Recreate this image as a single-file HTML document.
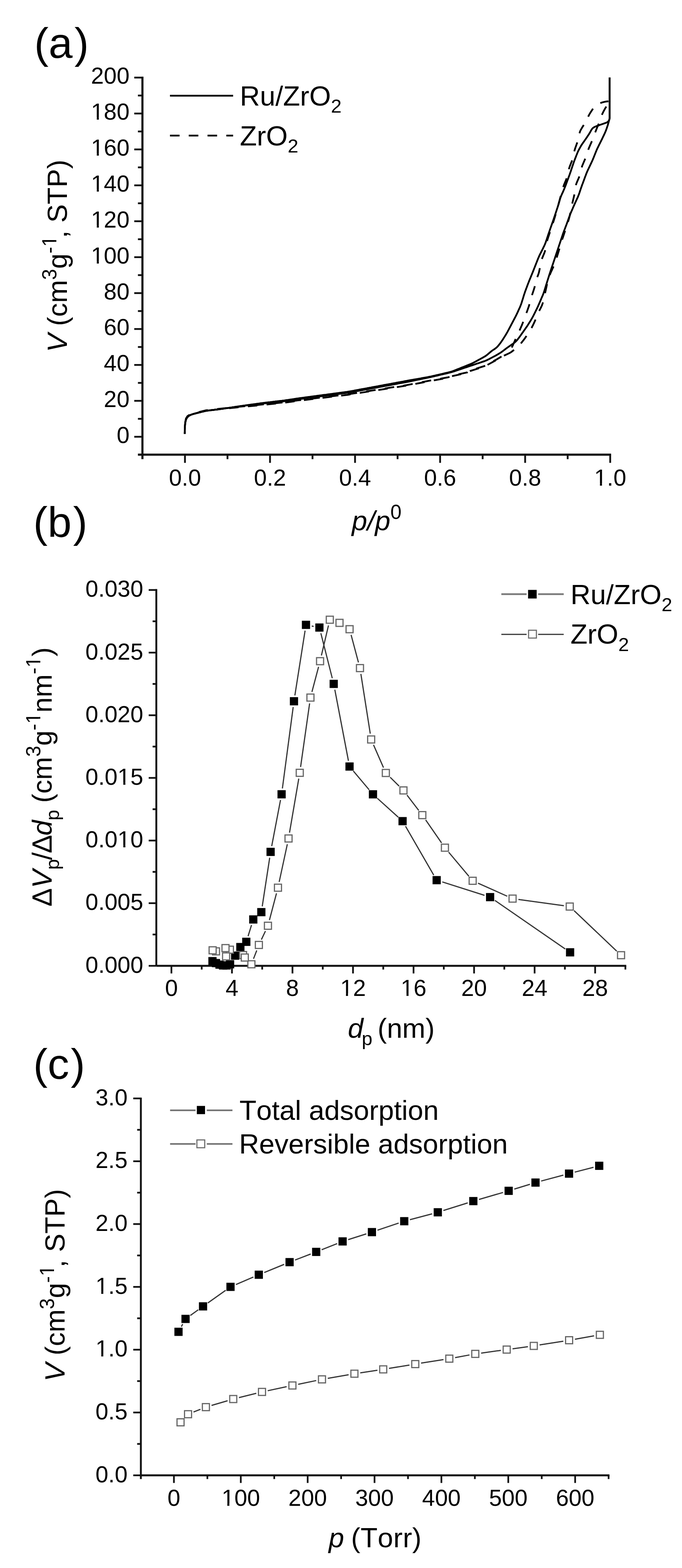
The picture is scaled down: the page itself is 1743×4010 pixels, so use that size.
<!DOCTYPE html><html><head><meta charset="utf-8"><title>Figure</title><style>html,body{margin:0;padding:0;background:#fff;}svg{display:block;filter:blur(0.7px);} text{font-family:'Liberation Sans', Arial, sans-serif;fill:#000;font-kerning:none;}</style></head><body>
<svg width="1743" height="4010" viewBox="0 0 1743 4010">
<rect width="1743" height="4010" fill="#fff"/>
<text x="87.5" y="148.2" font-size="110" text-anchor="start" >(a<tspan dx="5">)</tspan></text>
<text x="85" y="1373.2" font-size="110" text-anchor="start" >(b<tspan dx="4">)</tspan></text>
<text x="85" y="2758.7" font-size="110" text-anchor="start" >(c<tspan dx="4">)</tspan></text>
<line x1="364" y1="196.1" x2="364" y2="1174.3" stroke="#111" stroke-width="5.4" />
<line x1="352.5" y1="1162.8" x2="1561.8" y2="1162.8" stroke="#111" stroke-width="5.4" />
<line x1="343.1" y1="1117" x2="364" y2="1117" stroke="#111" stroke-width="4.6" />
<line x1="352.5" y1="1071.1" x2="364" y2="1071.1" stroke="#111" stroke-width="4.6" />
<line x1="343.1" y1="1025.1" x2="364" y2="1025.1" stroke="#111" stroke-width="4.6" />
<line x1="352.5" y1="979.2" x2="364" y2="979.2" stroke="#111" stroke-width="4.6" />
<line x1="343.1" y1="933.3" x2="364" y2="933.3" stroke="#111" stroke-width="4.6" />
<line x1="352.5" y1="887.4" x2="364" y2="887.4" stroke="#111" stroke-width="4.6" />
<line x1="343.1" y1="841.4" x2="364" y2="841.4" stroke="#111" stroke-width="4.6" />
<line x1="352.5" y1="795.5" x2="364" y2="795.5" stroke="#111" stroke-width="4.6" />
<line x1="343.1" y1="749.6" x2="364" y2="749.6" stroke="#111" stroke-width="4.6" />
<line x1="352.5" y1="703.6" x2="364" y2="703.6" stroke="#111" stroke-width="4.6" />
<line x1="343.1" y1="657.7" x2="364" y2="657.7" stroke="#111" stroke-width="4.6" />
<line x1="352.5" y1="611.8" x2="364" y2="611.8" stroke="#111" stroke-width="4.6" />
<line x1="343.1" y1="565.8" x2="364" y2="565.8" stroke="#111" stroke-width="4.6" />
<line x1="352.5" y1="519.9" x2="364" y2="519.9" stroke="#111" stroke-width="4.6" />
<line x1="343.1" y1="474" x2="364" y2="474" stroke="#111" stroke-width="4.6" />
<line x1="352.5" y1="428" x2="364" y2="428" stroke="#111" stroke-width="4.6" />
<line x1="343.1" y1="382.1" x2="364" y2="382.1" stroke="#111" stroke-width="4.6" />
<line x1="352.5" y1="336.2" x2="364" y2="336.2" stroke="#111" stroke-width="4.6" />
<line x1="343.1" y1="290.3" x2="364" y2="290.3" stroke="#111" stroke-width="4.6" />
<line x1="352.5" y1="244.3" x2="364" y2="244.3" stroke="#111" stroke-width="4.6" />
<line x1="343.1" y1="198.4" x2="364" y2="198.4" stroke="#111" stroke-width="4.6" />
<line x1="472.7" y1="1162.8" x2="472.7" y2="1183.7" stroke="#111" stroke-width="4.6" />
<line x1="581.4" y1="1162.8" x2="581.4" y2="1174.3" stroke="#111" stroke-width="4.6" />
<line x1="690.1" y1="1162.8" x2="690.1" y2="1183.7" stroke="#111" stroke-width="4.6" />
<line x1="798.7" y1="1162.8" x2="798.7" y2="1174.3" stroke="#111" stroke-width="4.6" />
<line x1="907.4" y1="1162.8" x2="907.4" y2="1183.7" stroke="#111" stroke-width="4.6" />
<line x1="1016.1" y1="1162.8" x2="1016.1" y2="1174.3" stroke="#111" stroke-width="4.6" />
<line x1="1124.8" y1="1162.8" x2="1124.8" y2="1183.7" stroke="#111" stroke-width="4.6" />
<line x1="1233.5" y1="1162.8" x2="1233.5" y2="1174.3" stroke="#111" stroke-width="4.6" />
<line x1="1342.1" y1="1162.8" x2="1342.1" y2="1183.7" stroke="#111" stroke-width="4.6" />
<line x1="1450.8" y1="1162.8" x2="1450.8" y2="1174.3" stroke="#111" stroke-width="4.6" />
<line x1="1559.5" y1="1162.8" x2="1559.5" y2="1183.7" stroke="#111" stroke-width="4.6" />
<text x="331" y="1133" font-size="59" text-anchor="end" >0</text>
<text x="331" y="1041.1" font-size="59" text-anchor="end" >20</text>
<text x="331" y="949.3" font-size="59" text-anchor="end" >40</text>
<text x="331" y="857.4" font-size="59" text-anchor="end" >60</text>
<text x="331" y="765.6" font-size="59" text-anchor="end" >80</text>
<text x="331" y="673.7" font-size="59" text-anchor="end" >100</text>
<rect x="236" y="668" width="11.4" height="7" fill="#fff"/>
<rect x="252.6" y="668" width="11.4" height="7" fill="#fff"/>
<text x="331" y="581.8" font-size="59" text-anchor="end" >120</text>
<rect x="236" y="576" width="11.4" height="8" fill="#fff"/>
<rect x="252.6" y="576" width="11.4" height="8" fill="#fff"/>
<text x="331" y="490" font-size="59" text-anchor="end" >140</text>
<rect x="236" y="484" width="11.4" height="8" fill="#fff"/>
<rect x="252.6" y="484" width="11.4" height="8" fill="#fff"/>
<text x="331" y="398.1" font-size="59" text-anchor="end" >160</text>
<rect x="236" y="392" width="11.4" height="8" fill="#fff"/>
<rect x="252.6" y="392" width="11.4" height="8" fill="#fff"/>
<text x="331" y="306.3" font-size="59" text-anchor="end" >180</text>
<rect x="236" y="300" width="11.4" height="8" fill="#fff"/>
<rect x="252.6" y="300" width="11.4" height="8" fill="#fff"/>
<text x="331" y="214.4" font-size="59" text-anchor="end" >200</text>
<text x="472.7" y="1241.5" font-size="59" text-anchor="middle" >0.0</text>
<text x="690.1" y="1241.5" font-size="59" text-anchor="middle" >0.2</text>
<text x="907.4" y="1241.5" font-size="59" text-anchor="middle" >0.4</text>
<text x="1124.8" y="1241.5" font-size="59" text-anchor="middle" >0.6</text>
<text x="1342.1" y="1241.5" font-size="59" text-anchor="middle" >0.8</text>
<text x="1559.5" y="1241.5" font-size="59" text-anchor="middle" >1.0</text>
<rect x="1522" y="1236" width="11.3" height="7" fill="#fff"/>
<rect x="1538.5" y="1236" width="11.5" height="7" fill="#fff"/>
<g fill="none" stroke="#000" stroke-width="4.5" stroke-linejoin="round" stroke-linecap="butt">
<polyline points="472.1,1110 472.1,1106.7 472.2,1103.8 472.2,1100.9 472.3,1098 472.4,1095 472.6,1092 472.8,1089 473,1086 473.3,1083 473.8,1080.1 474.3,1077.2 475.1,1074.3 476.1,1071.6 477.5,1069 479.2,1066.7 481.3,1064.7 483.6,1063 486.2,1061.6 488.9,1060.4 491.7,1059.5 494.6,1058.6 497.5,1057.8 500.4,1057 503.3,1056.3 506.2,1055.6 509.1,1054.9 512,1054.2 515,1053.4 517.9,1052.7 520.8,1052 523.7,1051.4 526.7,1050.8 529.6,1050.3 532.6,1049.9 535.5,1049.5 538.5,1049.1 541.5,1048.7 544.5,1048.4 547.5,1048 550.4,1047.6 553.4,1047.3 556.4,1046.9 559.4,1046.6 562.4,1046.2 565.3,1045.8 568.3,1045.4 571.3,1045 574.2,1044.5 577.2,1044.1 580.2,1043.7 583.2,1043.2 586.1,1042.8 589.1,1042.3 592.1,1041.9 595,1041.4 598,1041 601,1040.5 603.9,1040.1 606.9,1039.7 609.9,1039.2 612.8,1038.8 615.8,1038.3 618.8,1037.9 621.7,1037.5 624.7,1037.1 627.7,1036.6 630.7,1036.2 633.6,1035.8 636.6,1035.4 639.6,1035 642.6,1034.6 645.5,1034.2 648.5,1033.8 651.5,1033.4 654.5,1033 657.4,1032.6 660.4,1032.2 663.4,1031.8 666.3,1031.3 669.3,1030.9 672.3,1030.6 675.3,1030.2 678.3,1029.8 681.2,1029.4 684.2,1029.1 687.2,1028.7 690.2,1028.4 693.2,1028 696.1,1027.7 699.1,1027.3 702.1,1027 705.1,1026.6 708.1,1026.3 711,1025.9 714,1025.6 717,1025.2 720,1024.9 723,1024.5 725.9,1024.2 728.9,1023.8 731.9,1023.3 734.9,1022.9 737.8,1022.5 740.8,1022 743.8,1021.6 746.7,1021.1 749.7,1020.7 752.7,1020.2 755.6,1019.8 758.6,1019.3 761.6,1018.9 764.5,1018.5 767.5,1018.1 770.5,1017.7 773.5,1017.3 776.4,1016.9 779.4,1016.5 782.4,1016.1 785.4,1015.7 788.3,1015.3 791.3,1014.9 794.3,1014.5 797.3,1014.1 800.2,1013.7 803.2,1013.3 806.2,1012.9 809.2,1012.5 812.1,1012.1 815.1,1011.7 818.1,1011.3 821.1,1010.9 824,1010.5 827,1010.1 830,1009.7 833,1009.4 835.9,1009 838.9,1008.6 841.9,1008.2 844.9,1007.8 847.8,1007.4 850.8,1007 853.8,1006.6 856.8,1006.2 859.7,1005.8 862.7,1005.4 865.7,1005 868.7,1004.6 871.6,1004.2 874.6,1003.8 877.6,1003.4 880.6,1003 883.5,1002.6 886.5,1002.2 889.5,1001.7 892.4,1001.2 895.4,1000.7 898.3,1000.2 901.3,999.6 904.3,999.1 907.2,998.5 910.2,998 913.1,997.4 916.1,996.9 919,996.3 922,995.8 924.9,995.2 927.9,994.7 930.8,994.2 933.8,993.6 936.7,993.1 939.7,992.5 942.6,992 945.6,991.4 948.5,990.9 951.5,990.3 954.4,989.8 957.4,989.2 960.3,988.7 963.3,988.1 966.2,987.6 969.2,987 972.1,986.5 975.1,985.9 978,985.4 981,984.8 983.9,984.3 986.9,983.8 989.8,983.2 992.8,982.7 995.7,982.1 998.7,981.6 1001.6,981 1004.6,980.5 1007.5,979.9 1010.5,979.4 1013.4,978.8 1016.4,978.3 1019.3,977.7 1022.3,977.2 1025.2,976.6 1028.2,976.1 1031.1,975.6 1033.9,975 1036.8,974.5 1040,973.9 1040,973.9 1043.2,973.3 1046.1,972.8 1048.9,972.3 1051.8,971.8 1054.8,971.3 1057.7,970.7 1060.7,970.2 1063.7,969.7 1066.6,969.2 1069.6,968.6 1072.5,968.1 1075.5,967.6 1078.4,967 1081.4,966.5 1084.4,966 1087.3,965.5 1090.3,964.9 1093.2,964.4 1096.2,963.8 1099.1,963.3 1102.1,962.7 1105,962 1107.9,961.3 1110.9,960.7 1113.8,960 1116.7,959.3 1119.6,958.6 1122.6,957.9 1125.5,957.3 1128.4,956.6 1131.3,955.9 1134.3,955.2 1137.2,954.5 1140.1,953.8 1143,953.2 1146,952.5 1148.9,951.7 1151.8,950.9 1154.6,950.1 1157.5,949.1 1160.3,948 1163.1,946.9 1165.8,945.8 1168.6,944.7 1171.4,943.6 1174.2,942.5 1177,941.3 1179.8,940.2 1182.6,939.1 1185.4,938 1188.2,936.9 1190.9,935.8 1193.7,934.6 1196.5,933.5 1199.3,932.4 1202.1,931.3 1204.8,930.1 1207.6,928.8 1210.2,927.5 1212.9,926.1 1215.5,924.6 1218.2,923.2 1220.8,921.8 1223.4,920.3 1226.1,918.9 1228.7,917.4 1231.3,916 1234,914.5 1236.6,913 1239.2,911.5 1241.7,909.9 1244.1,908.1 1246.4,906.3 1248.7,904.3 1250.9,902.3 1253.2,900.4 1255.5,898.5 1257.9,896.7 1260.4,895 1262.9,893.3 1265.4,891.6 1267.7,889.9 1270,887.9 1272,885.8 1274,883.5 1275.8,881.2 1277.7,878.8 1279.5,876.4 1281.2,874 1282.9,871.5 1284.6,869 1286.2,866.5 1287.8,863.9 1289.4,861.4 1291,858.9 1292.6,856.3 1294.1,853.7 1295.6,851.1 1297.1,848.5 1298.5,845.8 1299.9,843.2 1301.3,840.5 1302.7,837.9 1304.1,835.2 1305.5,832.6 1306.9,829.9 1308.3,827.2 1309.7,824.6 1311.1,821.9 1312.5,819.3 1313.9,816.6 1315.3,813.9 1316.7,811.3 1318.1,808.6 1319.4,805.9 1320.7,803.2 1322,800.5 1323.3,797.8 1324.5,795 1325.7,792.3 1327,789.6 1328.2,786.8 1329.4,784.1 1330.5,781.3 1331.6,778.5 1332.6,775.7 1333.5,772.8 1334.4,769.9 1335.3,767.1 1336.2,764.2 1337.1,761.3 1337.9,758.5 1338.8,755.6 1339.7,752.7 1340.7,749.9 1341.6,747 1342.6,744.2 1343.7,741.4 1344.7,738.6 1345.8,735.7 1346.8,732.9 1347.9,730.1 1348.9,727.3 1350,724.5 1351.1,721.7 1352.2,718.9 1353.3,716.1 1354.4,713.3 1355.6,710.6 1356.7,707.8 1357.9,705 1359,702.2 1360.2,699.4 1361.3,696.7 1362.4,693.9 1363.5,691.1 1364.6,688.3 1365.7,685.5 1366.8,682.7 1367.9,679.9 1369,677.1 1370.1,674.3 1371.2,671.5 1372.3,668.7 1373.4,665.9 1374.5,663.1 1375.6,660.3 1376.8,657.6 1378,654.8 1379.3,652.1 1380.6,649.4 1382,646.8 1383.3,644.1 1384.7,641.4 1386,638.7 1387.4,636 1388.7,633.3 1390,630.6 1391.3,627.9 1392.5,625.2 1393.6,622.4 1394.7,619.6 1395.6,616.7 1396.6,613.9 1397.6,611 1398.5,608.2 1399.5,605.3 1400.4,602.5 1401.4,599.6 1402.3,596.8 1403.3,594 1404.3,591.1 1405.2,588.3 1406.2,585.4 1407.2,582.6 1408.2,579.8 1409.2,576.9 1410.2,574.1 1411.2,571.3 1412.2,568.4 1413.2,565.6 1414.2,562.8 1415.1,559.9 1416.1,557.1 1417,554.2 1418,551.4 1418.9,548.5 1419.9,545.7 1420.8,542.8 1421.8,540 1422.7,537.1 1423.6,534.2 1424.6,531.4 1425.5,528.5 1426.4,525.7 1427.3,522.8 1428.1,519.9 1429,517 1429.8,514.1 1430.6,511.2 1431.4,508.4 1432.4,505.5 1433.5,502.7 1434.6,500 1435.8,497.2 1437,494.5 1438.3,491.7 1439.5,489 1440.7,486.2 1441.9,483.5 1443,480.7 1444.1,477.9 1445.2,475.1 1446.3,472.3 1447.3,469.5 1448.3,466.7 1449.4,463.8 1450.4,461 1451.5,458.2 1452.5,455.4 1453.5,452.6 1454.6,449.7 1455.6,446.9 1456.6,444.1 1457.6,441.3 1458.6,438.4 1459.5,435.6 1460.5,432.7 1461.4,429.9 1462.4,427 1463.3,424.2 1464.3,421.3 1465.3,418.5 1466.2,415.6 1467.2,412.8 1468.3,410 1469.3,407.2 1470.4,404.4 1471.5,401.6 1472.6,398.8 1473.7,396 1474.8,393.2 1475.9,390.4 1477.1,387.7 1478.4,385 1479.8,382.3 1481.2,379.6 1482.7,377 1484.1,374.4 1485.7,371.8 1487.3,369.3 1489,366.8 1490.7,364.4 1492.4,361.9 1494.1,359.4 1495.9,357 1497.6,354.5 1499.3,352 1501,349.5 1502.6,347.1 1504.3,344.6 1505.9,342 1507.4,339.5 1508.9,336.8 1510.3,334.2 1511.8,331.7 1513.5,329.3 1515.4,327.3 1517.7,325.7 1520.2,324.3 1522.8,323.2 1525.6,322.2 1528.6,321 1528.6,321 1531.7,320 1534.5,319 1537.2,318.1 1540,317.2 1542.9,316.2 1545.7,315.2 1548.5,314.2 1551.1,313 1553.3,311.5 1555.3,309.7 1556.6,307.4 1557.5,304.6 1558,303 1558,299.8 1558,296.8 1558,293.9 1558,291 1558,288 1558,285 1558,282 1558,279 1558,276 1558,273 1558,270 1558,267 1558,264 1558,261 1558,258 1558,255 1558,252 1558,249 1558,246 1558,243 1558,240 1558,237 1558,234 1558,231 1558,228 1558,225 1558,222 1558,219 1558,216 1558,213 1558,210 1558,207.1 1558,204.2 1558,201.2 1558,198 1558,198"/>
<polyline points="472.1,1110 472.1,1106.7 472.2,1103.8 472.2,1100.9 472.3,1098 472.4,1095 472.6,1092 472.8,1089 473,1086 473.3,1083 473.8,1080 474.4,1077.1 475.1,1074.3 476.2,1071.5 477.5,1069 479.3,1066.6 481.3,1064.6 483.7,1062.9 486.3,1061.5 489,1060.4 491.8,1059.4 494.7,1058.6 497.6,1057.8 500.5,1057 503.4,1056.3 506.3,1055.5 509.3,1054.8 512.2,1054.1 515.1,1053.4 518,1052.7 520.9,1052 523.9,1051.4 526.8,1050.8 529.8,1050.3 532.8,1049.8 535.7,1049.4 538.7,1049.1 541.7,1048.7 544.7,1048.3 547.7,1048 550.7,1047.6 553.6,1047.3 556.6,1046.9 559.6,1046.5 562.6,1046.2 565.6,1045.8 568.6,1045.4 571.5,1045 574.5,1044.6 577.5,1044.1 580.5,1043.7 583.4,1043.3 586.4,1042.9 589.4,1042.4 592.4,1042 595.3,1041.6 598.3,1041.2 601.3,1040.8 604.3,1040.3 607.3,1039.9 610.2,1039.5 613.2,1039.1 616.2,1038.7 619.2,1038.3 622.2,1037.9 625.1,1037.5 628.1,1037.1 631.1,1036.8 634.1,1036.4 637.1,1036.1 640.1,1035.7 643.1,1035.4 646,1035 649,1034.7 652,1034.3 655,1034 658,1033.6 661,1033.3 664,1033 666.9,1032.6 669.9,1032.3 672.9,1031.9 675.9,1031.6 678.9,1031.3 681.9,1030.9 684.9,1030.6 687.9,1030.3 690.9,1030 693.8,1029.7 696.8,1029.3 699.8,1029 702.8,1028.7 705.8,1028.4 708.8,1028.1 711.8,1027.8 714.8,1027.4 717.8,1027.1 720.8,1026.8 723.7,1026.5 726.7,1026.1 729.7,1025.7 732.7,1025.3 735.7,1024.9 738.6,1024.5 741.6,1024 744.6,1023.6 747.6,1023.1 750.5,1022.7 753.5,1022.3 756.5,1021.8 759.5,1021.4 762.4,1021 765.4,1020.6 768.4,1020.2 771.4,1019.8 774.4,1019.4 777.3,1019 780.3,1018.6 783.3,1018.2 786.3,1017.8 789.3,1017.5 792.2,1017.1 795.2,1016.7 798.2,1016.3 801.2,1015.9 804.2,1015.5 807.2,1015.1 810.1,1014.7 813.1,1014.3 816.1,1013.9 819.1,1013.6 822.1,1013.2 825,1012.8 828,1012.4 831,1012 834,1011.6 837,1011.2 839.9,1010.8 842.9,1010.4 845.9,1010 848.9,1009.7 851.9,1009.3 854.9,1008.9 857.8,1008.5 860.8,1008.1 863.8,1007.7 866.8,1007.3 869.8,1006.9 872.7,1006.5 875.7,1006.1 878.7,1005.8 881.7,1005.4 884.7,1005 887.6,1004.5 890.6,1004.1 893.6,1003.6 896.5,1003.1 899.5,1002.5 902.5,1002 905.4,1001.5 908.4,1000.9 911.3,1000.4 914.3,999.8 917.2,999.3 920.2,998.8 923.2,998.2 926.1,997.7 929.1,997.1 932,996.6 935,996.1 938,995.5 940.9,995 943.9,994.4 946.8,993.9 949.8,993.4 952.7,992.8 955.7,992.3 958.7,991.7 961.6,991.2 964.6,990.7 967.5,990.1 970.5,989.6 973.4,989 976.4,988.5 979.4,988 982.3,987.4 985.3,986.9 988.2,986.3 991.2,985.8 994.2,985.3 997.1,984.7 1000.1,984.2 1003,983.6 1006,983.1 1008.9,982.6 1011.9,982 1014.9,981.5 1017.8,980.9 1020.8,980.4 1023.7,979.9 1026.7,979.3 1029.6,978.8 1032.5,978.3 1035.3,977.7 1038.3,977.2 1040,976.9 1043.2,976.2 1046,975.7 1048.9,975.1 1051.8,974.5 1054.7,973.9 1057.7,973.3 1060.6,972.6 1063.5,972 1066.5,971.4 1069.4,970.8 1072.4,970.2 1075.3,969.6 1078.2,969 1081.2,968.4 1084.1,967.8 1087.1,967.2 1090,966.6 1092.9,966 1095.9,965.3 1098.8,964.7 1101.8,964.1 1104.7,963.4 1107.6,962.7 1110.5,962 1113.5,961.4 1116.4,960.7 1119.3,960 1122.2,959.3 1125.2,958.6 1128.1,957.9 1131,957.3 1133.9,956.6 1136.9,955.9 1139.8,955.2 1142.7,954.5 1145.6,953.8 1148.6,953.1 1151.5,952.4 1154.4,951.6 1157.2,950.7 1160.1,949.8 1162.9,948.9 1165.8,947.9 1168.6,946.9 1171.5,946 1174.3,945 1177.2,944.1 1180,943.1 1182.9,942.1 1185.7,941.2 1188.6,940.2 1191.4,939.3 1194.3,938.3 1197.1,937.4 1200,936.4 1202.8,935.4 1205.6,934.5 1208.5,933.5 1211.3,932.6 1214.2,931.6 1217,930.7 1219.9,929.7 1222.7,928.8 1225.6,927.8 1228.4,926.9 1231.3,925.9 1234.1,925 1237,924 1239.8,923 1242.6,921.9 1245.3,920.6 1248,919.3 1250.7,918 1253.3,916.6 1256,915.1 1258.6,913.7 1261.3,912.3 1263.9,910.9 1266.6,909.5 1269.2,908 1271.8,906.5 1274.4,905 1276.9,903.4 1279.4,901.8 1281.9,900.1 1284.4,898.3 1286.8,896.5 1289.1,894.7 1291.5,892.9 1293.9,891 1296.3,889.3 1298.8,887.5 1301.2,885.8 1303.7,884.2 1306.2,882.4 1308.7,880.7 1311.1,879 1313.5,877.2 1315.9,875.4 1318.1,873.4 1320.2,871.3 1322.2,869.1 1324,866.7 1325.8,864.3 1327.6,861.9 1329.3,859.5 1331.1,857 1332.8,854.6 1334.5,852.1 1336.3,849.7 1338,847.2 1339.7,844.7 1341.5,842.3 1343.2,839.8 1344.9,837.4 1346.6,834.9 1348.3,832.4 1349.9,829.9 1351.5,827.3 1353.1,824.8 1354.7,822.2 1356.3,819.7 1357.8,817.1 1359.3,814.5 1360.8,811.9 1362.2,809.3 1363.6,806.6 1364.9,803.9 1366.3,801.2 1367.6,798.5 1369,795.8 1370.3,793.1 1371.6,790.5 1372.9,787.7 1374.2,785 1375.4,782.3 1376.6,779.5 1377.8,776.8 1379,774 1380.2,771.3 1381.4,768.5 1382.6,765.7 1383.7,763 1384.9,760.2 1386.1,757.5 1387.3,754.7 1388.4,751.9 1389.4,749.1 1390.4,746.2 1391.3,743.4 1392.2,740.5 1393.1,737.6 1394,734.8 1394.8,731.9 1395.7,729 1396.6,726.2 1397.5,723.3 1398.4,720.4 1399.3,717.6 1400.2,714.7 1401.1,711.8 1402,709 1402.9,706.1 1403.8,703.2 1404.7,700.4 1405.7,697.5 1406.6,694.7 1407.5,691.8 1408.5,689 1409.4,686.1 1410.4,683.3 1411.3,680.4 1412.3,677.6 1413.2,674.7 1414.2,671.9 1415.1,669 1416.1,666.2 1417,663.3 1418,660.5 1418.9,657.6 1419.9,654.8 1420.8,651.9 1421.8,649.1 1422.7,646.2 1423.7,643.4 1424.6,640.5 1425.6,637.7 1426.5,634.8 1427.5,632 1428.4,629.1 1429.4,626.3 1430.3,623.4 1431.3,620.6 1432.2,617.7 1433.2,614.9 1434.1,612 1435.1,609.2 1436,606.3 1437,603.5 1437.9,600.6 1438.9,597.8 1439.9,595 1441,592.1 1442,589.3 1443.1,586.5 1444.2,583.7 1445.2,580.9 1446.3,578.1 1447.4,575.3 1448.4,572.5 1449.4,569.7 1450.5,566.8 1451.5,564 1452.5,561.2 1453.5,558.3 1454.5,555.5 1455.5,552.7 1456.6,549.9 1457.7,547.1 1458.8,544.3 1460,541.5 1461.2,538.8 1462.4,536 1463.6,533.3 1464.7,530.5 1465.9,527.8 1467.2,525 1468.4,522.3 1469.6,519.5 1470.9,516.8 1472.1,514.1 1473.4,511.3 1474.6,508.6 1475.9,505.9 1477.1,503.1 1478.2,500.3 1479.3,497.6 1480.3,494.7 1481.3,491.9 1482.2,489 1483.2,486.2 1484.1,483.3 1485.1,480.5 1486.1,477.7 1487.1,474.8 1488.1,472 1489.2,469.2 1490.2,466.4 1491.3,463.6 1492.3,460.7 1493.4,457.9 1494.4,455.1 1495.4,452.3 1496.5,449.5 1497.5,446.7 1498.6,443.9 1499.7,441.1 1500.9,438.3 1502.1,435.6 1503.4,432.9 1504.7,430.1 1506,427.4 1507.3,424.7 1508.6,422 1509.9,419.3 1511.2,416.6 1512.4,413.9 1513.7,411.1 1514.9,408.4 1516,405.6 1517.2,402.8 1518.3,400 1519.4,397.2 1520.5,394.5 1521.6,391.7 1522.7,388.9 1523.9,386.1 1525,383.3 1526.3,380.6 1527.5,377.9 1528.9,375.2 1530.2,372.5 1531.5,369.8 1532.9,367.1 1534.2,364.4 1535.6,361.8 1536.9,359.1 1538.2,356.4 1539.5,353.7 1540.8,350.9 1542.1,348.2 1543.4,345.5 1544.7,342.8 1545.9,340.1 1547.1,337.3 1548.3,334.5 1549.3,331.7 1550.3,328.9 1551.3,326.1 1552.2,323.2 1553.2,320.4 1554,317.5 1554.8,314.6 1555.6,311.8 1556.4,309 1557.2,306.1 1558,303 1558,303 1558,299.8 1558,296.8 1558,293.9 1558,291 1558,288 1558,285 1558,282 1558,279 1558,276 1558,273 1558,270 1558,267 1558,264 1558,261 1558,258 1558,255 1558,252 1558,249 1558,246 1558,243 1558,240 1558,237 1558,234 1558,231 1558,228 1558,225 1558,222 1558,219 1558,216 1558,213 1558,210 1558,207.1 1558,204.2 1558,201.2 1558,198 1558,198"/>
<polyline points="472.1,1110 472.3,1095 473.2,1082 475.3,1071.5 479.5,1065 486,1061 497.5,1057.7 527,1050.5 567.2,1045.9 620.7,1040.5 674.3,1035.3 727.9,1029.8 760,1025.3 890,1009.5 1040,985.9 1107,973 1146,966 1153.6,962.3 1194.6,953.4 1201,949 1241,936.4 1246.4,932.9 1270,920 1285,911 1300,904" stroke-dasharray="24 24" stroke-dashoffset="36.4"/>
<polyline points="472.1,1108.8 472.3,1093.8 473.2,1080.8 475.3,1070.3 479.5,1063.8 486,1059.8 497.5,1056.5 527,1049.3 567.2,1044.7 620.7,1039.3 674.3,1034.1 727.9,1028.6 760,1024.1 890,1008.3 1040,984.7 1107,971.8 1146,964.8 1153.6,961.1 1194.6,952.2 1201,947.8 1241,935.2 1246.4,931.7 1270,918.8 1285,909.8 1300,902.8" stroke-dasharray="24 24" stroke-dashoffset="19.4"/>
<polyline points="1300,904 1302.9,902.5 1305.4,901.1 1307.7,899.4 1310.1,897.6 1312.5,895.8 1314.8,893.9 1317.2,892.1 1319.5,890.2 1321.8,888.3 1324,886.3 1326.2,884.2 1328.2,882 1330.1,879.7 1332,877.4 1333.9,875 1335.7,872.7 1337.6,870.3 1339.4,867.9 1341.2,865.5 1342.9,863.1 1344.6,860.6 1346.3,858.1 1348,855.6 1349.7,853.1 1351.3,850.6 1353,848.1 1354.6,845.6 1356.1,843 1357.6,840.4 1359,837.8 1360.3,835.1 1361.7,832.4 1363,829.7 1364.3,827 1365.6,824.3 1366.8,821.5 1368,818.8 1369.1,816 1370.2,813.2 1371.3,810.4 1372.4,807.7 1373.6,804.9 1374.7,802.1 1376,799.4 1377.2,796.7 1378.6,794 1380,791.3 1381.4,788.7 1382.7,786 1384,783.3 1385.2,780.6 1386.2,777.8 1387.1,774.9 1387.8,772 1388.5,769.1 1389.2,766.2 1389.9,763.3 1390.6,760.3 1391.3,757.4 1391.9,754.5 1392.6,751.6 1393.3,748.6 1393.9,745.7 1394.6,742.8 1395.2,739.8 1395.9,736.9 1396.5,734 1397.1,731 1397.8,728.1 1398.4,725.2 1399.1,722.3 1399.9,719.4 1400.7,716.5 1401.6,713.6 1402.5,710.8 1403.5,707.9 1404.5,705.1 1405.5,702.3 1406.6,699.5 1407.7,696.7 1408.9,694 1410.2,691.2 1411.4,688.5 1412.7,685.8 1413.9,683 1415.1,680.3 1416.2,677.5 1417.3,674.7 1418.3,671.9 1419.2,669 1420.2,666.2 1421.2,663.3 1422.1,660.5 1423.1,657.7 1424,654.8 1424.9,651.9 1425.8,649.1 1426.7,646.2 1427.6,643.3 1428.4,640.5 1429.3,637.6 1430.1,634.7 1431,631.8 1431.9,629 1432.7,626.1 1433.6,623.2 1434.4,620.3 1435.3,617.5 1436.2,614.6 1437.1,611.7 1438,608.9 1439,606 1439.9,603.2 1440.9,600.3 1441.8,597.5 1442.8,594.6 1443.7,591.8 1444.7,588.9 1445.6,586.1 1446.6,583.2 1447.5,580.4 1448.4,577.5 1449.3,574.7 1450.2,571.8 1451.2,569 1452.1,566.1 1453,563.2 1453.8,560.4 1454.6,557.5 1455.4,554.6 1456.1,551.7 1456.7,548.7 1457.3,545.8 1457.9,542.8 1458.5,539.9 1459.1,537 1459.7,534 1460.3,531.1 1460.9,528.1 1461.5,525.2 1462.2,522.3 1462.8,519.3 1463.5,516.4 1464.2,513.5 1464.9,510.6 1465.6,507.7 1466.3,504.8 1467,501.8 1467.7,498.9 1468.3,496 1468.8,493 1469.3,490.1 1469.6,487.1 1470,484.1 1470.4,481.1 1470.9,478.2 1471.4,475.2 1472.1,472.4 1473.1,469.5 1474.1,466.8 1475.3,464 1476.5,461.2 1477.7,458.5 1478.9,455.7 1480,452.9 1481,450.1 1481.9,447.3 1482.7,444.4 1483.4,441.5 1484.1,438.6 1484.8,435.6 1485.5,432.7 1486.2,429.8 1487.1,427 1488,424.1 1489.1,421.3 1490.3,418.6 1491.4,415.8 1492.6,413.1 1493.8,410.3 1495,407.5 1496.1,404.8 1497.2,402 1498.2,399.1 1499.2,396.3 1500.1,393.4 1501,390.6 1501.9,387.7 1502.8,384.9 1503.8,382 1504.8,379.2 1506,376.5 1507.2,373.7 1508.4,370.9 1509.6,368.2 1510.8,365.5 1512,362.7 1513.2,360 1514.3,357.2 1515.4,354.4 1516.5,351.6 1517.5,348.8 1518.5,345.9 1519.6,343.1 1520.6,340.3 1521.6,337.5 1522.7,334.7 1523.8,331.9 1524.9,329.1 1526,326.3 1527.2,323.6 1528.3,320.8 1529.5,318 1530.6,315.2 1531.7,312.4 1532.8,309.6 1533.8,306.8 1534.8,304 1535.8,301.1 1536.8,298.3 1537.8,295.5 1538.8,292.7 1540,289.9 1541.3,287.2 1542.6,284.6 1544.1,281.9 1545.5,279.3 1547,276.7 1548.5,274.1 1549.9,271.5 1551.2,268.8 1552.4,266.1 1553.4,263.5 1554.5,260.6 1555,259" stroke-dasharray="24 24" stroke-dashoffset="7.4"/>
<polyline points="1300,904 1301.5,901.1 1302.9,898.5 1304.2,896 1305.6,893.4 1307,890.7 1308.3,888 1309.7,885.3 1310.9,882.6 1312.1,879.9 1313.3,877.1 1314.5,874.3 1315.7,871.6 1316.9,868.8 1318.1,866.1 1319.3,863.3 1320.6,860.6 1321.9,857.9 1323.2,855.2 1324.5,852.5 1325.7,849.7 1327,847 1328.2,844.3 1329.4,841.5 1330.6,838.8 1331.8,836 1333,833.3 1334.2,830.5 1335.3,827.7 1336.4,824.9 1337.4,822.1 1338.5,819.3 1339.5,816.5 1340.6,813.6 1341.6,810.8 1342.6,808 1343.7,805.2 1344.7,802.4 1345.7,799.5 1346.8,796.7 1347.8,793.9 1348.8,791.1 1349.8,788.2 1350.8,785.4 1351.8,782.6 1352.6,779.7 1353.5,776.8 1354.3,773.9 1355.1,771 1355.9,768.1 1356.7,765.2 1357.5,762.3 1358.3,759.4 1359.2,756.6 1360,753.7 1361,750.8 1361.9,748 1362.9,745.1 1363.8,742.3 1364.7,739.4 1365.6,736.5 1366.4,733.6 1367.1,730.7 1367.8,727.8 1368.5,724.9 1369.2,722 1369.9,719.1 1370.7,716.2 1371.5,713.3 1372.5,710.5 1373.5,707.7 1374.6,704.9 1375.7,702.1 1376.6,699.2 1377.4,696.3 1378.1,693.4 1378.7,690.5 1379.3,687.5 1379.9,684.6 1380.5,681.6 1381.1,678.7 1381.7,675.8 1382.3,672.8 1382.9,669.9 1383.6,667 1384.4,664.1 1385.4,661.3 1386.4,658.5 1387.6,655.7 1388.7,652.9 1389.9,650.2 1391,647.4 1392,644.6 1392.9,641.7 1393.7,638.8 1394.3,635.9 1394.9,632.9 1395.4,630 1396,627 1396.5,624.1 1397.1,621.1 1397.7,618.2 1398.5,615.3 1399.3,612.4 1400.2,609.6 1401.1,606.7 1402.1,603.8 1403,601 1404,598.1 1404.9,595.3 1405.9,592.4 1406.8,589.6 1407.8,586.7 1408.7,583.9 1409.7,581 1410.6,578.2 1411.6,575.3 1412.5,572.5 1413.4,569.6 1414.4,566.8 1415.3,563.9 1416.2,561.1 1417.1,558.2 1418,555.3 1418.8,552.4 1419.7,549.6 1420.5,546.7 1421.4,543.8 1422.2,540.9 1423.1,538 1423.9,535.1 1424.7,532.3 1425.5,529.4 1426.3,526.5 1427.1,523.5 1427.8,520.6 1428.6,517.7 1429.4,514.8 1430.2,511.9 1430.9,509 1431.7,506.1 1432.5,503.2 1433.3,500.3 1434.1,497.4 1434.9,494.5 1435.6,491.6 1436.4,488.7 1437.2,485.8 1438,483 1438.9,480.1 1439.8,477.2 1440.8,474.4 1441.8,471.6 1443,468.8 1444.2,466 1445.3,463.3 1446.5,460.5 1447.5,457.7 1448.5,454.9 1449.3,452 1450,449.1 1450.7,446.2 1451.4,443.2 1452,440.3 1452.7,437.4 1453.4,434.4 1454.2,431.6 1455.1,428.7 1456,425.9 1457.1,423.1 1458.2,420.3 1459.3,417.5 1460.4,414.7 1461.5,411.9 1462.4,409 1463.3,406.2 1464,403.3 1464.7,400.3 1465.4,397.4 1466,394.5 1466.7,391.5 1467.4,388.6 1468.1,385.7 1468.9,382.8 1469.8,380 1470.8,377.1 1471.8,374.3 1472.8,371.5 1473.8,368.6 1474.8,365.8 1475.8,363 1476.7,360.1 1477.4,357.2 1478.1,354.3 1478.7,351.4 1479.4,348.4 1480,345.5 1480.6,342.6 1481.3,339.7 1482.2,336.8 1483.3,334.1 1484.7,331.5 1486.2,328.9 1487.7,326.3 1489.3,323.8 1490.9,321.2 1492.5,318.7 1494.1,316.1 1495.5,313.5 1497,310.9 1498.3,308.2 1499.7,305.5 1501,302.8 1502.4,300.1 1503.7,297.4 1505.1,294.8 1506.5,292.1 1508,289.5 1509.6,287 1511.2,284.5 1512.9,282 1514.5,279.5 1516.2,277.1 1517.8,274.7 1519.6,272 1519.6,272 1522.4,270.1 1524.9,268.5 1527.4,267 1530,265.6 1532.8,264.3 1535.6,263.2 1538.5,262.2 1541.4,261.3 1544.4,260.6 1547.3,260 1550.2,259.6 1553.3,259.2 1555,259" stroke-dasharray="24 24" stroke-dashoffset="30.9"/>
</g>
<line x1="434.4" y1="244.8" x2="595.8" y2="244.8" stroke="#000" stroke-width="4.6" />
<line x1="434.4" y1="346.8" x2="595.8" y2="346.8" stroke="#000" stroke-width="4.6" stroke-dasharray="24.5 23.5"/>
<text x="613" y="269.8" font-size="71" text-anchor="start" >Ru/ZrO<tspan font-size="49" dy="18.5">2</tspan></text>
<text x="613" y="371.7" font-size="71" text-anchor="start" >ZrO<tspan font-size="49" dy="18.5">2</tspan></text>
<text transform="translate(170.9,900.5) rotate(-90)" font-size="70.7" class="t"><tspan font-style="italic">V</tspan> (cm<tspan font-size="51" dy="-27">3</tspan><tspan dy="27">g</tspan><tspan font-size="51" dy="-27">-1</tspan><tspan dy="27" dx="-6">, STP)</tspan></text>
<text x="899" y="1355.7" font-size="71" class="t"><tspan font-style="italic">p</tspan><tspan font-style="italic">/</tspan><tspan font-style="italic">p</tspan><tspan font-size="51" dy="-29">0</tspan></text>
<line x1="399.5" y1="1506.6" x2="399.5" y2="2470" stroke="#111" stroke-width="4.8" />
<line x1="399.5" y1="2470" x2="1600.5" y2="2470" stroke="#111" stroke-width="4.8" />
<line x1="380" y1="2470" x2="399.5" y2="2470" stroke="#111" stroke-width="4.4" />
<line x1="390" y1="2389.9" x2="399.5" y2="2389.9" stroke="#111" stroke-width="4.4" />
<line x1="380" y1="2309.8" x2="399.5" y2="2309.8" stroke="#111" stroke-width="4.4" />
<line x1="390" y1="2229.7" x2="399.5" y2="2229.7" stroke="#111" stroke-width="4.4" />
<line x1="380" y1="2149.6" x2="399.5" y2="2149.6" stroke="#111" stroke-width="4.4" />
<line x1="390" y1="2069.5" x2="399.5" y2="2069.5" stroke="#111" stroke-width="4.4" />
<line x1="380" y1="1989.4" x2="399.5" y2="1989.4" stroke="#111" stroke-width="4.4" />
<line x1="390" y1="1909.3" x2="399.5" y2="1909.3" stroke="#111" stroke-width="4.4" />
<line x1="380" y1="1829.2" x2="399.5" y2="1829.2" stroke="#111" stroke-width="4.4" />
<line x1="390" y1="1749.1" x2="399.5" y2="1749.1" stroke="#111" stroke-width="4.4" />
<line x1="380" y1="1669" x2="399.5" y2="1669" stroke="#111" stroke-width="4.4" />
<line x1="390" y1="1588.9" x2="399.5" y2="1588.9" stroke="#111" stroke-width="4.4" />
<line x1="380" y1="1508.8" x2="399.5" y2="1508.8" stroke="#111" stroke-width="4.4" />
<line x1="438.1" y1="2470" x2="438.1" y2="2489.5" stroke="#111" stroke-width="4.4" />
<line x1="515.5" y1="2470" x2="515.5" y2="2479.5" stroke="#111" stroke-width="4.4" />
<line x1="592.8" y1="2470" x2="592.8" y2="2489.5" stroke="#111" stroke-width="4.4" />
<line x1="670.1" y1="2470" x2="670.1" y2="2479.5" stroke="#111" stroke-width="4.4" />
<line x1="747.5" y1="2470" x2="747.5" y2="2489.5" stroke="#111" stroke-width="4.4" />
<line x1="824.9" y1="2470" x2="824.9" y2="2479.5" stroke="#111" stroke-width="4.4" />
<line x1="902.2" y1="2470" x2="902.2" y2="2489.5" stroke="#111" stroke-width="4.4" />
<line x1="979.5" y1="2470" x2="979.5" y2="2479.5" stroke="#111" stroke-width="4.4" />
<line x1="1056.9" y1="2470" x2="1056.9" y2="2489.5" stroke="#111" stroke-width="4.4" />
<line x1="1134.2" y1="2470" x2="1134.2" y2="2479.5" stroke="#111" stroke-width="4.4" />
<line x1="1211.6" y1="2470" x2="1211.6" y2="2489.5" stroke="#111" stroke-width="4.4" />
<line x1="1288.9" y1="2470" x2="1288.9" y2="2479.5" stroke="#111" stroke-width="4.4" />
<line x1="1366.3" y1="2470" x2="1366.3" y2="2489.5" stroke="#111" stroke-width="4.4" />
<line x1="1443.7" y1="2470" x2="1443.7" y2="2479.5" stroke="#111" stroke-width="4.4" />
<line x1="1521" y1="2470" x2="1521" y2="2489.5" stroke="#111" stroke-width="4.4" />
<line x1="1598.3" y1="2470" x2="1598.3" y2="2479.5" stroke="#111" stroke-width="4.4" />
<text x="366" y="2487.5" font-size="59" text-anchor="end" >0.000</text>
<text x="366" y="2327.3" font-size="59" text-anchor="end" >0.005</text>
<text x="366" y="2167.1" font-size="59" text-anchor="end" >0.010</text>
<rect x="303" y="2161" width="12.2" height="8" fill="#fff"/>
<rect x="320.4" y="2161" width="11.6" height="8" fill="#fff"/>
<text x="366" y="2006.9" font-size="59" text-anchor="end" >0.015</text>
<rect x="303" y="2001" width="12.2" height="8" fill="#fff"/>
<rect x="320.4" y="2001" width="11.6" height="8" fill="#fff"/>
<text x="366" y="1846.7" font-size="59" text-anchor="end" >0.020</text>
<text x="366" y="1686.5" font-size="59" text-anchor="end" >0.025</text>
<text x="366" y="1526.3" font-size="59" text-anchor="end" >0.030</text>
<text x="438.1" y="2547" font-size="59" text-anchor="middle" >0</text>
<text x="592.8" y="2547" font-size="59" text-anchor="middle" >4</text>
<text x="747.5" y="2547" font-size="59" text-anchor="middle" >8</text>
<text x="902.2" y="2547" font-size="59" text-anchor="middle" >12</text>
<rect x="872" y="2541" width="12.2" height="8" fill="#fff"/>
<rect x="889.4" y="2541" width="11.6" height="8" fill="#fff"/>
<text x="1056.9" y="2547" font-size="59" text-anchor="middle" >16</text>
<rect x="1027" y="2541" width="11.9" height="8" fill="#fff"/>
<rect x="1044.1" y="2541" width="11.9" height="8" fill="#fff"/>
<text x="1211.6" y="2547" font-size="59" text-anchor="middle" >20</text>
<text x="1366.3" y="2547" font-size="59" text-anchor="middle" >24</text>
<text x="1521" y="2547" font-size="59" text-anchor="middle" >28</text>
<line x1="634" y1="2394.3" x2="642.8" y2="2365.7" stroke="#333" stroke-width="3.0" />
<line x1="670.2" y1="2317.9" x2="689.3" y2="2193.4" stroke="#333" stroke-width="3.0" />
<line x1="694.4" y1="2163.9" x2="716.9" y2="2046" stroke="#333" stroke-width="3.0" />
<line x1="721.7" y1="2016.4" x2="749.3" y2="1808.3" stroke="#333" stroke-width="3.0" />
<line x1="753.6" y1="1778.6" x2="779.7" y2="1612.8" stroke="#333" stroke-width="3.0" />
<line x1="796.7" y1="1601" x2="801.6" y2="1601.9" stroke="#333" stroke-width="3.0" />
<line x1="820" y1="1619.4" x2="849.2" y2="1734.5" stroke="#333" stroke-width="3.0" />
<line x1="855.7" y1="1763.7" x2="890.5" y2="1945.6" stroke="#333" stroke-width="3.0" />
<line x1="903" y1="1971.8" x2="943.5" y2="2019.9" stroke="#333" stroke-width="3.0" />
<line x1="964.3" y1="2041.5" x2="1017.8" y2="2089.9" stroke="#333" stroke-width="3.0" />
<line x1="1036.4" y1="2113" x2="1108.5" y2="2237.9" stroke="#333" stroke-width="3.0" />
<line x1="1130.3" y1="2255.4" x2="1238.3" y2="2289.8" stroke="#333" stroke-width="3.0" />
<line x1="1264.9" y1="2302.8" x2="1444.7" y2="2427" stroke="#333" stroke-width="3.0" />
<line x1="601.4" y1="2434.4" x2="607.4" y2="2436.8" stroke="#333" stroke-width="3.0" />
<line x1="647.9" y1="2452" x2="656.2" y2="2430.6" stroke="#333" stroke-width="3.0" />
<line x1="668" y1="2403" x2="678.4" y2="2381.1" stroke="#333" stroke-width="3.0" />
<line x1="688.6" y1="2353" x2="706.6" y2="2284.7" stroke="#333" stroke-width="3.0" />
<line x1="713.5" y1="2255.5" x2="734.3" y2="2159" stroke="#333" stroke-width="3.0" />
<line x1="739.9" y1="2129.5" x2="763.6" y2="1991.2" stroke="#333" stroke-width="3.0" />
<line x1="768.2" y1="1961.5" x2="791.3" y2="1798.9" stroke="#333" stroke-width="3.0" />
<line x1="797.2" y1="1769.5" x2="814.2" y2="1705.4" stroke="#333" stroke-width="3.0" />
<line x1="821.4" y1="1676.3" x2="839.5" y2="1599.5" stroke="#333" stroke-width="3.0" />
<line x1="880.4" y1="1600.9" x2="880.7" y2="1601.1" stroke="#333" stroke-width="3.0" />
<line x1="897.3" y1="1623.6" x2="916.1" y2="1694.1" stroke="#333" stroke-width="3.0" />
<line x1="922.3" y1="1723.4" x2="946.3" y2="1876.3" stroke="#333" stroke-width="3.0" />
<line x1="954.6" y1="1904.8" x2="980.1" y2="1963.1" stroke="#333" stroke-width="3.0" />
<line x1="997.2" y1="1987.8" x2="1020" y2="2010.4" stroke="#333" stroke-width="3.0" />
<line x1="1040.2" y1="2033.3" x2="1070.2" y2="2072.7" stroke="#333" stroke-width="3.0" />
<line x1="1087.9" y1="2096.9" x2="1128.5" y2="2155.6" stroke="#333" stroke-width="3.0" />
<line x1="1146.7" y1="2179.4" x2="1198.4" y2="2241" stroke="#333" stroke-width="3.0" />
<line x1="1221.7" y1="2258.6" x2="1296.3" y2="2292" stroke="#333" stroke-width="3.0" />
<line x1="1324.9" y1="2300.2" x2="1441.2" y2="2316.3" stroke="#333" stroke-width="3.0" />
<line x1="1467.2" y1="2328.9" x2="1576.1" y2="2432.3" stroke="#333" stroke-width="3.0" />
<rect x="1446.5" y="2425" width="21" height="21" fill="#000"/>
<rect x="1242.1" y="2283.8" width="21" height="21" fill="#000"/>
<rect x="1105.5" y="2240.4" width="21" height="21" fill="#000"/>
<rect x="1018.4" y="2089.5" width="21" height="21" fill="#000"/>
<rect x="942.7" y="2020.9" width="21" height="21" fill="#000"/>
<rect x="882.8" y="1949.8" width="21" height="21" fill="#000"/>
<rect x="842.4" y="1738.5" width="21" height="21" fill="#000"/>
<rect x="805.8" y="1594.4" width="21" height="21" fill="#000"/>
<rect x="771.5" y="1587.5" width="21" height="21" fill="#000"/>
<rect x="740.8" y="1782.9" width="21" height="21" fill="#000"/>
<rect x="709.2" y="2020.8" width="21" height="21" fill="#000"/>
<rect x="681.1" y="2168.1" width="21" height="21" fill="#000"/>
<rect x="657.4" y="2322.2" width="21" height="21" fill="#000"/>
<rect x="636.8" y="2340.9" width="21" height="21" fill="#000"/>
<rect x="619" y="2398.1" width="21" height="21" fill="#000"/>
<rect x="603.8" y="2411.5" width="21" height="21" fill="#000"/>
<rect x="590.5" y="2433.5" width="21" height="21" fill="#000"/>
<rect x="577.5" y="2455.5" width="21" height="21" fill="#000"/>
<rect x="568.5" y="2458.5" width="21" height="21" fill="#000"/>
<rect x="559.5" y="2458.5" width="21" height="21" fill="#000"/>
<rect x="550.5" y="2456.5" width="21" height="21" fill="#000"/>
<rect x="541.5" y="2452.5" width="21" height="21" fill="#000"/>
<rect x="532.5" y="2447.5" width="21" height="21" fill="#000"/>
<rect x="1578.2" y="2433.8" width="18" height="18" fill="#fff" stroke="#666" stroke-width="3.0"/>
<rect x="1447.1" y="2309.4" width="18" height="18" fill="#fff" stroke="#666" stroke-width="3.0"/>
<rect x="1301" y="2289.1" width="18" height="18" fill="#fff" stroke="#666" stroke-width="3.0"/>
<rect x="1199" y="2243.5" width="18" height="18" fill="#fff" stroke="#666" stroke-width="3.0"/>
<rect x="1128.1" y="2158.9" width="18" height="18" fill="#fff" stroke="#666" stroke-width="3.0"/>
<rect x="1070.3" y="2075.6" width="18" height="18" fill="#fff" stroke="#666" stroke-width="3.0"/>
<rect x="1022.1" y="2012.4" width="18" height="18" fill="#fff" stroke="#666" stroke-width="3.0"/>
<rect x="977.1" y="1967.8" width="18" height="18" fill="#fff" stroke="#666" stroke-width="3.0"/>
<rect x="939.6" y="1882.1" width="18" height="18" fill="#fff" stroke="#666" stroke-width="3.0"/>
<rect x="911" y="1699.6" width="18" height="18" fill="#fff" stroke="#666" stroke-width="3.0"/>
<rect x="884.4" y="1600.1" width="18" height="18" fill="#fff" stroke="#666" stroke-width="3.0"/>
<rect x="858.7" y="1583.9" width="18" height="18" fill="#fff" stroke="#666" stroke-width="3.0"/>
<rect x="833.9" y="1575.9" width="18" height="18" fill="#fff" stroke="#666" stroke-width="3.0"/>
<rect x="809" y="1681.9" width="18" height="18" fill="#fff" stroke="#666" stroke-width="3.0"/>
<rect x="784.4" y="1775" width="18" height="18" fill="#fff" stroke="#666" stroke-width="3.0"/>
<rect x="757.1" y="1967.4" width="18" height="18" fill="#fff" stroke="#666" stroke-width="3.0"/>
<rect x="728.4" y="2135.3" width="18" height="18" fill="#fff" stroke="#666" stroke-width="3.0"/>
<rect x="701.4" y="2261.2" width="18" height="18" fill="#fff" stroke="#666" stroke-width="3.0"/>
<rect x="675.8" y="2358.5" width="18" height="18" fill="#fff" stroke="#666" stroke-width="3.0"/>
<rect x="652.6" y="2407.6" width="18" height="18" fill="#fff" stroke="#666" stroke-width="3.0"/>
<rect x="633.5" y="2457" width="18" height="18" fill="#fff" stroke="#666" stroke-width="3.0"/>
<rect x="612.2" y="2433.5" width="18" height="18" fill="#fff" stroke="#666" stroke-width="3.0"/>
<rect x="616.6" y="2439.8" width="18" height="18" fill="#fff" stroke="#666" stroke-width="3.0"/>
<rect x="578.5" y="2419.8" width="18" height="18" fill="#fff" stroke="#666" stroke-width="3.0"/>
<rect x="568.8" y="2436.9" width="18" height="18" fill="#fff" stroke="#666" stroke-width="3.0"/>
<rect x="567.3" y="2415.7" width="18" height="18" fill="#fff" stroke="#666" stroke-width="3.0"/>
<rect x="543" y="2424" width="18" height="18" fill="#fff" stroke="#666" stroke-width="3.0"/>
<rect x="534.4" y="2421.3" width="18" height="18" fill="#fff" stroke="#666" stroke-width="3.0"/>
<line x1="1281.3" y1="1519.6" x2="1345.9" y2="1519.6" stroke="#7a7a7a" stroke-width="4.5" />
<line x1="1375.3" y1="1519.6" x2="1440.7" y2="1519.6" stroke="#7a7a7a" stroke-width="4.5" />
<rect x="1349.6" y="1508.6" width="22" height="22" fill="#000"/>
<line x1="1281.3" y1="1622.3" x2="1345.9" y2="1622.3" stroke="#444" stroke-width="3.2" />
<line x1="1375.3" y1="1622.3" x2="1440.7" y2="1622.3" stroke="#444" stroke-width="3.2" />
<rect x="1350.9" y="1611.8" width="20" height="20" fill="#fff" stroke="#6a6a6a" stroke-width="2.8"/>
<text x="1458" y="1544.7" font-size="71" text-anchor="start" >Ru/ZrO<tspan font-size="49" dy="18.5">2</tspan></text>
<text x="1458" y="1646" font-size="71" text-anchor="start" >ZrO<tspan font-size="49" dy="18.5">2</tspan></text>
<text transform="translate(132.1,2318.6) rotate(-90)" font-size="70.7" class="t">&#916;<tspan font-style="italic">V</tspan><tspan font-size="49" dy="19">p</tspan><tspan dy="-19" dx="-2.5">/</tspan><tspan dx="-2.5">&#916;</tspan><tspan font-style="italic" dx="-2">d</tspan><tspan font-size="49" dy="19" dx="-0.5">p</tspan><tspan dy="-19" dx="-2"> (cm</tspan><tspan font-size="51" dy="-29">3</tspan><tspan dy="29">g</tspan><tspan font-size="51" dy="-29">-1</tspan><tspan dy="29">nm</tspan><tspan font-size="51" dy="-29">-1</tspan><tspan dy="29">)</tspan></text>
<text x="889" y="2653.8" font-size="71" class="t"><tspan font-style="italic">d</tspan><tspan font-size="49" dy="19" dx="-4">p</tspan><tspan dy="-19" dx="-6.5"> (nm)</tspan></text>
<line x1="360" y1="2806.9" x2="360" y2="3782.5" stroke="#111" stroke-width="4.8" />
<line x1="360" y1="3773" x2="1557.6" y2="3773" stroke="#111" stroke-width="4.8" />
<line x1="340.5" y1="3773" x2="360" y2="3773" stroke="#111" stroke-width="4.4" />
<line x1="350.5" y1="3692.7" x2="360" y2="3692.7" stroke="#111" stroke-width="4.4" />
<line x1="340.5" y1="3612.3" x2="360" y2="3612.3" stroke="#111" stroke-width="4.4" />
<line x1="350.5" y1="3532" x2="360" y2="3532" stroke="#111" stroke-width="4.4" />
<line x1="340.5" y1="3451.7" x2="360" y2="3451.7" stroke="#111" stroke-width="4.4" />
<line x1="350.5" y1="3371.4" x2="360" y2="3371.4" stroke="#111" stroke-width="4.4" />
<line x1="340.5" y1="3291.1" x2="360" y2="3291.1" stroke="#111" stroke-width="4.4" />
<line x1="350.5" y1="3210.7" x2="360" y2="3210.7" stroke="#111" stroke-width="4.4" />
<line x1="340.5" y1="3130.4" x2="360" y2="3130.4" stroke="#111" stroke-width="4.4" />
<line x1="350.5" y1="3050.1" x2="360" y2="3050.1" stroke="#111" stroke-width="4.4" />
<line x1="340.5" y1="2969.8" x2="360" y2="2969.8" stroke="#111" stroke-width="4.4" />
<line x1="350.5" y1="2889.4" x2="360" y2="2889.4" stroke="#111" stroke-width="4.4" />
<line x1="340.5" y1="2809.1" x2="360" y2="2809.1" stroke="#111" stroke-width="4.4" />
<line x1="444.5" y1="3773" x2="444.5" y2="3792.5" stroke="#111" stroke-width="4.4" />
<line x1="530" y1="3773" x2="530" y2="3782.5" stroke="#111" stroke-width="4.4" />
<line x1="615.4" y1="3773" x2="615.4" y2="3792.5" stroke="#111" stroke-width="4.4" />
<line x1="700.9" y1="3773" x2="700.9" y2="3782.5" stroke="#111" stroke-width="4.4" />
<line x1="786.3" y1="3773" x2="786.3" y2="3792.5" stroke="#111" stroke-width="4.4" />
<line x1="871.8" y1="3773" x2="871.8" y2="3782.5" stroke="#111" stroke-width="4.4" />
<line x1="957.2" y1="3773" x2="957.2" y2="3792.5" stroke="#111" stroke-width="4.4" />
<line x1="1042.7" y1="3773" x2="1042.7" y2="3782.5" stroke="#111" stroke-width="4.4" />
<line x1="1128.1" y1="3773" x2="1128.1" y2="3792.5" stroke="#111" stroke-width="4.4" />
<line x1="1213.6" y1="3773" x2="1213.6" y2="3782.5" stroke="#111" stroke-width="4.4" />
<line x1="1299" y1="3773" x2="1299" y2="3792.5" stroke="#111" stroke-width="4.4" />
<line x1="1384.5" y1="3773" x2="1384.5" y2="3782.5" stroke="#111" stroke-width="4.4" />
<line x1="1469.9" y1="3773" x2="1469.9" y2="3792.5" stroke="#111" stroke-width="4.4" />
<line x1="1555.4" y1="3773" x2="1555.4" y2="3782.5" stroke="#111" stroke-width="4.4" />
<text x="326" y="3790.5" font-size="59" text-anchor="end" >0.0</text>
<text x="326" y="3629.8" font-size="59" text-anchor="end" >0.5</text>
<text x="326" y="3469.2" font-size="59" text-anchor="end" >1.0</text>
<rect x="247" y="3463" width="11.8" height="8" fill="#fff"/>
<rect x="264" y="3463" width="12" height="8" fill="#fff"/>
<text x="326" y="3308.6" font-size="59" text-anchor="end" >1.5</text>
<rect x="247" y="3303" width="11.8" height="7" fill="#fff"/>
<rect x="264" y="3303" width="12" height="7" fill="#fff"/>
<text x="326" y="3147.9" font-size="59" text-anchor="end" >2.0</text>
<text x="326" y="2987.2" font-size="59" text-anchor="end" >2.5</text>
<text x="326" y="2826.6" font-size="59" text-anchor="end" >3.0</text>
<text x="444.5" y="3851" font-size="59" text-anchor="middle" >0</text>
<text x="615.4" y="3851" font-size="59" text-anchor="middle" >100</text>
<rect x="569" y="3845" width="12" height="8" fill="#fff"/>
<rect x="586.2" y="3845" width="11.8" height="8" fill="#fff"/>
<text x="786.3" y="3851" font-size="59" text-anchor="middle" >200</text>
<text x="957.2" y="3851" font-size="59" text-anchor="middle" >300</text>
<text x="1128.1" y="3851" font-size="59" text-anchor="middle" >400</text>
<text x="1299" y="3851" font-size="59" text-anchor="middle" >500</text>
<text x="1469.9" y="3851" font-size="59" text-anchor="middle" >600</text>
<line x1="463.4" y1="3392.8" x2="467" y2="3386.2" stroke="#333" stroke-width="3.0" />
<line x1="486.4" y1="3364.3" x2="506.7" y2="3349.6" stroke="#333" stroke-width="3.0" />
<line x1="531.1" y1="3332.2" x2="576.9" y2="3299.7" stroke="#333" stroke-width="3.0" />
<line x1="602.9" y1="3285.1" x2="647.6" y2="3265.9" stroke="#333" stroke-width="3.0" />
<line x1="675.3" y1="3254.3" x2="726.2" y2="3233.5" stroke="#333" stroke-width="3.0" />
<line x1="754.1" y1="3222.4" x2="794.1" y2="3207" stroke="#333" stroke-width="3.0" />
<line x1="822" y1="3196.1" x2="861.7" y2="3180.3" stroke="#333" stroke-width="3.0" />
<line x1="889.9" y1="3170.3" x2="936.2" y2="3155.5" stroke="#333" stroke-width="3.0" />
<line x1="964.7" y1="3146.2" x2="1018.9" y2="3127.9" stroke="#333" stroke-width="3.0" />
<line x1="1047.6" y1="3119.2" x2="1104.4" y2="3104.2" stroke="#333" stroke-width="3.0" />
<line x1="1133.2" y1="3095.8" x2="1195.4" y2="3076.2" stroke="#333" stroke-width="3.0" />
<line x1="1224.1" y1="3067.5" x2="1285.6" y2="3049.6" stroke="#333" stroke-width="3.0" />
<line x1="1314.3" y1="3041" x2="1354.3" y2="3028.7" stroke="#333" stroke-width="3.0" />
<line x1="1383.1" y1="3020.4" x2="1439.8" y2="3005.3" stroke="#333" stroke-width="3.0" />
<line x1="1468.8" y1="2997.6" x2="1516.9" y2="2985.2" stroke="#333" stroke-width="3.0" />
<line x1="494.5" y1="3611.2" x2="512.3" y2="3604.1" stroke="#333" stroke-width="3.0" />
<line x1="540.6" y1="3594.3" x2="581.7" y2="3582.2" stroke="#333" stroke-width="3.0" />
<line x1="610.7" y1="3574.3" x2="655" y2="3563.3" stroke="#333" stroke-width="3.0" />
<line x1="684.3" y1="3556.6" x2="732.6" y2="3546.3" stroke="#333" stroke-width="3.0" />
<line x1="762" y1="3540.2" x2="808.2" y2="3530.6" stroke="#333" stroke-width="3.0" />
<line x1="837.7" y1="3525" x2="891" y2="3515.7" stroke="#333" stroke-width="3.0" />
<line x1="920.6" y1="3510.9" x2="964.6" y2="3504.2" stroke="#333" stroke-width="3.0" />
<line x1="994.2" y1="3499.6" x2="1046.5" y2="3490.9" stroke="#333" stroke-width="3.0" />
<line x1="1076.1" y1="3486.1" x2="1133.5" y2="3477" stroke="#333" stroke-width="3.0" />
<line x1="1163.1" y1="3471.9" x2="1199.9" y2="3465.1" stroke="#333" stroke-width="3.0" />
<line x1="1229.6" y1="3460.4" x2="1280.1" y2="3453.4" stroke="#333" stroke-width="3.0" />
<line x1="1309.9" y1="3449.4" x2="1349.3" y2="3444" stroke="#333" stroke-width="3.0" />
<line x1="1379" y1="3439.6" x2="1439.7" y2="3429.9" stroke="#333" stroke-width="3.0" />
<line x1="1469.3" y1="3424.9" x2="1518.3" y2="3416.3" stroke="#333" stroke-width="3.0" />
<rect x="1520.9" y="2970.9" width="21" height="21" fill="#000"/>
<rect x="1443.8" y="2990.9" width="21" height="21" fill="#000"/>
<rect x="1358.1" y="3013.8" width="21" height="21" fill="#000"/>
<rect x="1289.5" y="3034.9" width="21" height="21" fill="#000"/>
<rect x="1199.2" y="3061.2" width="21" height="21" fill="#000"/>
<rect x="1108.4" y="3089.8" width="21" height="21" fill="#000"/>
<rect x="1022.6" y="3112.6" width="21" height="21" fill="#000"/>
<rect x="940" y="3140.5" width="21" height="21" fill="#000"/>
<rect x="865.1" y="3164.3" width="21" height="21" fill="#000"/>
<rect x="797.6" y="3191.1" width="21" height="21" fill="#000"/>
<rect x="729.6" y="3217.3" width="21" height="21" fill="#000"/>
<rect x="650.9" y="3249.5" width="21" height="21" fill="#000"/>
<rect x="578.6" y="3280.5" width="21" height="21" fill="#000"/>
<rect x="508.4" y="3330.4" width="21" height="21" fill="#000"/>
<rect x="463.7" y="3362.5" width="21" height="21" fill="#000"/>
<rect x="445.7" y="3395.5" width="21" height="21" fill="#000"/>
<rect x="1524.1" y="3404.7" width="18" height="18" fill="#fff" stroke="#666" stroke-width="3.0"/>
<rect x="1445.5" y="3418.5" width="18" height="18" fill="#fff" stroke="#666" stroke-width="3.0"/>
<rect x="1355.2" y="3433" width="18" height="18" fill="#fff" stroke="#666" stroke-width="3.0"/>
<rect x="1286" y="3442.4" width="18" height="18" fill="#fff" stroke="#666" stroke-width="3.0"/>
<rect x="1205.7" y="3453.4" width="18" height="18" fill="#fff" stroke="#666" stroke-width="3.0"/>
<rect x="1139.3" y="3465.6" width="18" height="18" fill="#fff" stroke="#666" stroke-width="3.0"/>
<rect x="1052.3" y="3479.5" width="18" height="18" fill="#fff" stroke="#666" stroke-width="3.0"/>
<rect x="970.4" y="3493" width="18" height="18" fill="#fff" stroke="#666" stroke-width="3.0"/>
<rect x="896.8" y="3504.1" width="18" height="18" fill="#fff" stroke="#666" stroke-width="3.0"/>
<rect x="813.9" y="3518.6" width="18" height="18" fill="#fff" stroke="#666" stroke-width="3.0"/>
<rect x="738.3" y="3534.2" width="18" height="18" fill="#fff" stroke="#666" stroke-width="3.0"/>
<rect x="660.6" y="3550.7" width="18" height="18" fill="#fff" stroke="#666" stroke-width="3.0"/>
<rect x="587.1" y="3568.9" width="18" height="18" fill="#fff" stroke="#666" stroke-width="3.0"/>
<rect x="517.2" y="3589.6" width="18" height="18" fill="#fff" stroke="#666" stroke-width="3.0"/>
<rect x="471.6" y="3607.7" width="18" height="18" fill="#fff" stroke="#666" stroke-width="3.0"/>
<rect x="452.4" y="3628.4" width="18" height="18" fill="#fff" stroke="#666" stroke-width="3.0"/>
<line x1="434.7" y1="2839.4" x2="499.8" y2="2839.4" stroke="#6e6e6e" stroke-width="4" />
<line x1="528.5" y1="2839.4" x2="594.1" y2="2839.4" stroke="#6e6e6e" stroke-width="4" />
<rect x="503" y="2828.3" width="21" height="21" fill="#000"/>
<line x1="434.7" y1="2925.4" x2="499.8" y2="2925.4" stroke="#6e6e6e" stroke-width="4" />
<line x1="528.5" y1="2925.4" x2="594.1" y2="2925.4" stroke="#6e6e6e" stroke-width="4" />
<rect x="503.2" y="2915.2" width="20" height="20" fill="#fff" stroke="#6a6a6a" stroke-width="2.8"/>
<text x="612" y="2864.3" font-size="71" text-anchor="start" >Total adsorption</text>
<text x="611" y="2950" font-size="71" text-anchor="start" >Reversible adsorption</text>
<text transform="translate(165,3533) rotate(-90)" font-size="70.7" class="t"><tspan font-style="italic">V</tspan> (cm<tspan font-size="51" dy="-27">3</tspan><tspan dy="27">g</tspan><tspan font-size="51" dy="-27">-1</tspan><tspan dy="27" dx="-6">, STP)</tspan></text>
<text x="840" y="3957.1" font-size="71" class="t"><tspan font-style="italic">p</tspan><tspan dx="-2"> </tspan><tspan letter-spacing="0.5">(Torr)</tspan></text>
<g transform="translate(170.9,900.5) rotate(-90)" fill="#fff">
<rect x="271.5" y="-31.9" width="10.5" height="7"/>
<rect x="286.5" y="-31.9" width="10" height="7"/>
</g>
<g transform="translate(132.1,2318.6) rotate(-90)" fill="#fff">
<rect x="470.6" y="-34.1" width="9.9" height="7"/>
<rect x="485" y="-34.1" width="10.6" height="7"/>
<rect x="613.6" y="-34.1" width="10.4" height="7"/>
<rect x="628.5" y="-34.1" width="10.1" height="7"/>
</g>
<g transform="translate(165,3533) rotate(-90)" fill="#fff">
<rect x="272" y="-32" width="10" height="7"/>
<rect x="286.5" y="-32" width="10.5" height="7"/>
</g>
</svg></body></html>
